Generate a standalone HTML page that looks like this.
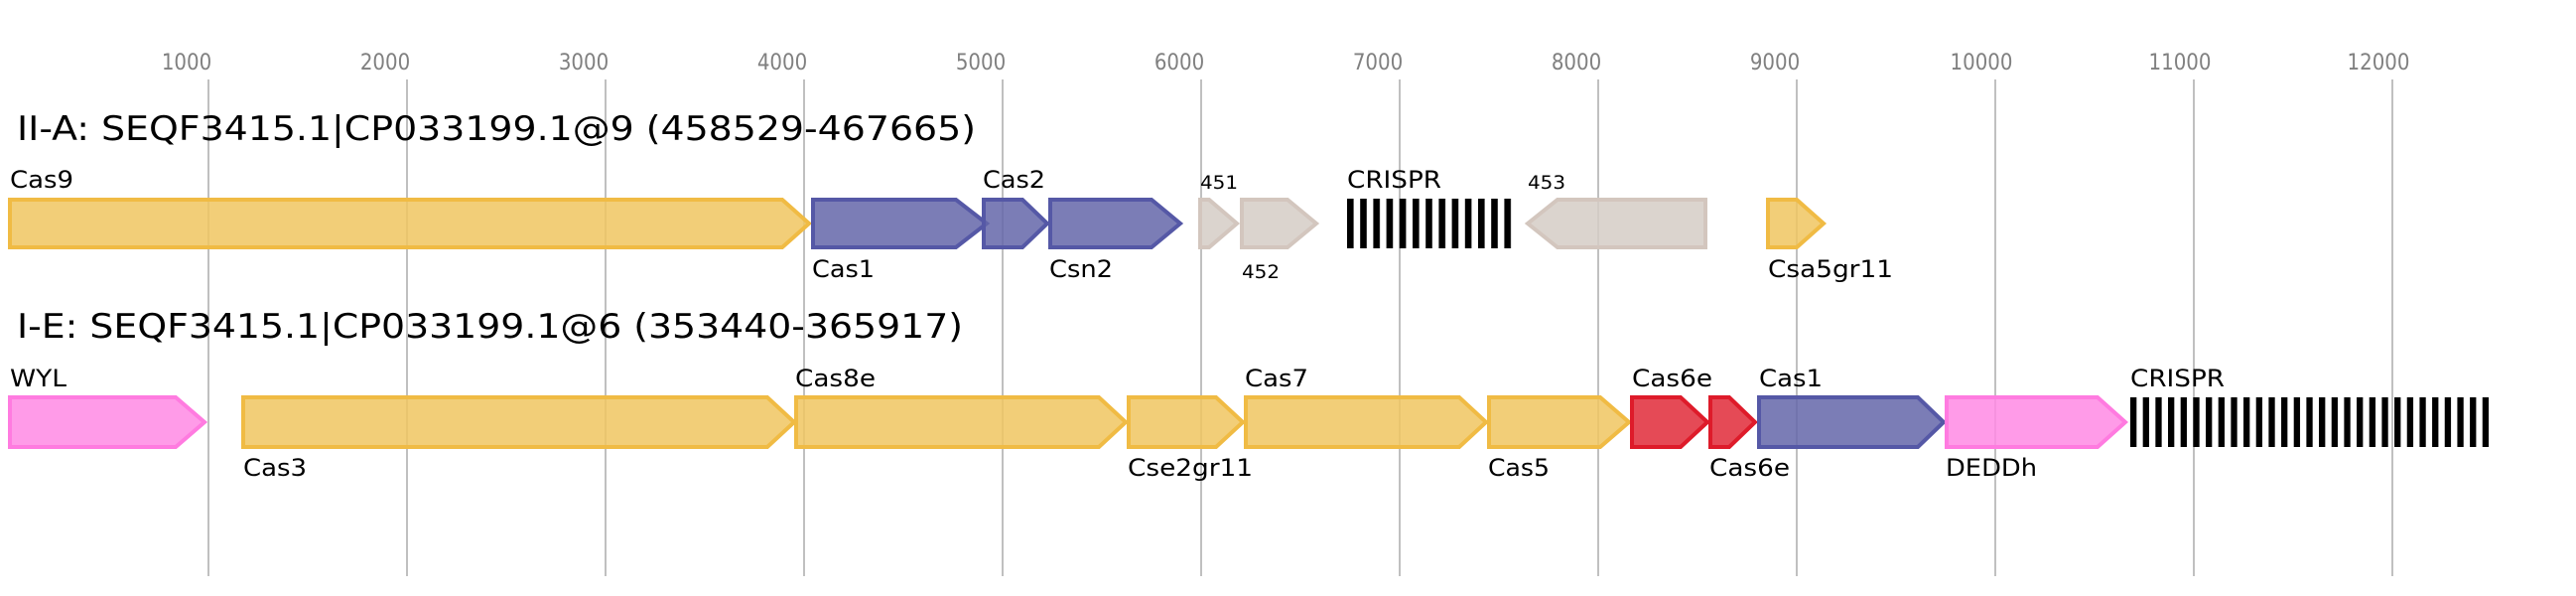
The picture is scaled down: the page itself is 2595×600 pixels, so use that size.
<!DOCTYPE html>
<html><head><meta charset="utf-8"><style>html,body{margin:0;padding:0;background:#fff}svg{display:block}</style></head>
<body>
<svg width="2595" height="600" viewBox="0 0 2595 600" xmlns="http://www.w3.org/2000/svg" font-family="'DejaVu Sans Condensed','DejaVu Sans','Liberation Sans',sans-serif">
<g stroke="#c0c0c0" stroke-width="2">
<line x1="210" y1="80" x2="210" y2="580"/><line x1="410" y1="80" x2="410" y2="580"/><line x1="610" y1="80" x2="610" y2="580"/><line x1="810" y1="80" x2="810" y2="580"/><line x1="1010" y1="80" x2="1010" y2="580"/><line x1="1210" y1="80" x2="1210" y2="580"/><line x1="1410" y1="80" x2="1410" y2="580"/><line x1="1610" y1="80" x2="1610" y2="580"/><line x1="1810" y1="80" x2="1810" y2="580"/><line x1="2010" y1="80" x2="2010" y2="580"/><line x1="2210" y1="80" x2="2210" y2="580"/><line x1="2410" y1="80" x2="2410" y2="580"/>
</g>
<g fill="#808080" font-size="22" text-anchor="middle">
<text x="188" y="70">1000</text><text x="388" y="70">2000</text><text x="588" y="70">3000</text><text x="788" y="70">4000</text><text x="988" y="70">5000</text><text x="1188" y="70">6000</text><text x="1388" y="70">7000</text><text x="1588" y="70">8000</text><text x="1788" y="70">9000</text><text x="1996" y="70">10000</text><text x="2196" y="70">11000</text><text x="2396" y="70">12000</text>
</g>
<text x="17" y="141" font-size="34" textLength="966" lengthAdjust="spacingAndGlyphs">II-A: SEQF3415.1|CP033199.1@9 (458529-467665)</text>
<text x="17" y="340" font-size="34" textLength="953" lengthAdjust="spacingAndGlyphs">I-E: SEQF3415.1|CP033199.1@6 (353440-365917)</text>

<g stroke-width="4" fill-opacity="0.85">
<polygon points="10,201 788,201 815,225 788,249 10,249" fill="#f0c560" stroke="#f0bb44"/>
<polygon points="819,201 963,201 994,225 963,249 819,249" fill="#6466a9" stroke="#5558a6"/>
<polygon points="991,201 1030,201 1055,225 1030,249 991,249" fill="#6466a9" stroke="#5558a6"/>
<polygon points="1058,201 1160,201 1189,225 1160,249 1058,249" fill="#6466a9" stroke="#5558a6"/>
<polygon points="1209,201 1218,201 1246,225 1218,249 1209,249" fill="#d5ccc6" stroke="#d3c6be"/>
<polygon points="1251,201 1297,201 1326,225 1297,249 1251,249" fill="#d5ccc6" stroke="#d3c6be"/>
<polygon points="1718,201 1569,201 1539,225 1569,249 1718,249" fill="#d5ccc6" stroke="#d3c6be"/>
<polygon points="1781,201 1810,201 1837,225 1810,249 1781,249" fill="#f0c560" stroke="#f0bb44"/>
<polygon points="10,400 177,400 206,425 177,450 10,450" fill="#ff8ae4" stroke="#ff7be0"/>
<polygon points="245,400 773,400 800,425 773,450 245,450" fill="#f0c560" stroke="#f0bb44"/>
<polygon points="802,400 1107,400 1134,425 1107,450 802,450" fill="#f0c560" stroke="#f0bb44"/>
<polygon points="1137,400 1225,400 1252,425 1225,450 1137,450" fill="#f0c560" stroke="#f0bb44"/>
<polygon points="1255,400 1470,400 1497,425 1470,450 1255,450" fill="#f0c560" stroke="#f0bb44"/>
<polygon points="1500,400 1612,400 1641,425 1612,450 1500,450" fill="#f0c560" stroke="#f0bb44"/>
<polygon points="1644,400 1693,400 1720,425 1693,450 1644,450" fill="#e02a38" stroke="#de1b2a"/>
<polygon points="1723,400 1742,400 1768,425 1742,450 1723,450" fill="#e02a38" stroke="#de1b2a"/>
<polygon points="1772,400 1932,400 1958,425 1932,450 1772,450" fill="#6466a9" stroke="#5558a6"/>
<polygon points="1961,400 2113,400 2141,425 2113,450 1961,450" fill="#ff8ae4" stroke="#ff7be0"/>
</g>
<svg x="1357" y="200" width="166" height="50"><defs><pattern id="p1" width="13.2" height="50" patternUnits="userSpaceOnUse"><rect width="6.6" height="50" fill="#000"/></pattern></defs><rect width="166" height="50" fill="url(#p1)"/></svg>
<svg x="2146" y="400" width="362" height="50"><defs><pattern id="p2" width="12.67" height="50" patternUnits="userSpaceOnUse"><rect width="6.3" height="50" fill="#000"/></pattern></defs><rect width="362" height="50" fill="url(#p2)"/></svg>

<g font-size="24" fill="#000">
<text x="10" y="189" textLength="64" lengthAdjust="spacingAndGlyphs">Cas9</text>
<text x="818" y="279" textLength="63" lengthAdjust="spacingAndGlyphs">Cas1</text>
<text x="990" y="189" textLength="63" lengthAdjust="spacingAndGlyphs">Cas2</text>
<text x="1057" y="279" textLength="64" lengthAdjust="spacingAndGlyphs">Csn2</text>
<text x="1357" y="189" textLength="95" lengthAdjust="spacingAndGlyphs">CRISPR</text>
<text x="1781" y="279" textLength="126" lengthAdjust="spacingAndGlyphs">Csa5gr11</text>
<text x="10" y="389" textLength="57" lengthAdjust="spacingAndGlyphs">WYL</text>
<text x="245" y="479" textLength="64" lengthAdjust="spacingAndGlyphs">Cas3</text>
<text x="801" y="389" textLength="81" lengthAdjust="spacingAndGlyphs">Cas8e</text>
<text x="1136" y="479" textLength="126" lengthAdjust="spacingAndGlyphs">Cse2gr11</text>
<text x="1254" y="389" textLength="64" lengthAdjust="spacingAndGlyphs">Cas7</text>
<text x="1499" y="479" textLength="62" lengthAdjust="spacingAndGlyphs">Cas5</text>
<text x="1644" y="389" textLength="81" lengthAdjust="spacingAndGlyphs">Cas6e</text>
<text x="1722" y="479" textLength="81" lengthAdjust="spacingAndGlyphs">Cas6e</text>
<text x="1772" y="389" textLength="64" lengthAdjust="spacingAndGlyphs">Cas1</text>
<text x="1960" y="479" textLength="92" lengthAdjust="spacingAndGlyphs">DEDDh</text>
<text x="2146" y="389" textLength="95" lengthAdjust="spacingAndGlyphs">CRISPR</text>
</g>
<g font-size="19" fill="#000">
<text x="1209" y="190" textLength="38" lengthAdjust="spacingAndGlyphs">451</text>
<text x="1251" y="280" textLength="38" lengthAdjust="spacingAndGlyphs">452</text>
<text x="1539" y="190" textLength="38" lengthAdjust="spacingAndGlyphs">453</text>
</g>
</svg>
</body></html>
